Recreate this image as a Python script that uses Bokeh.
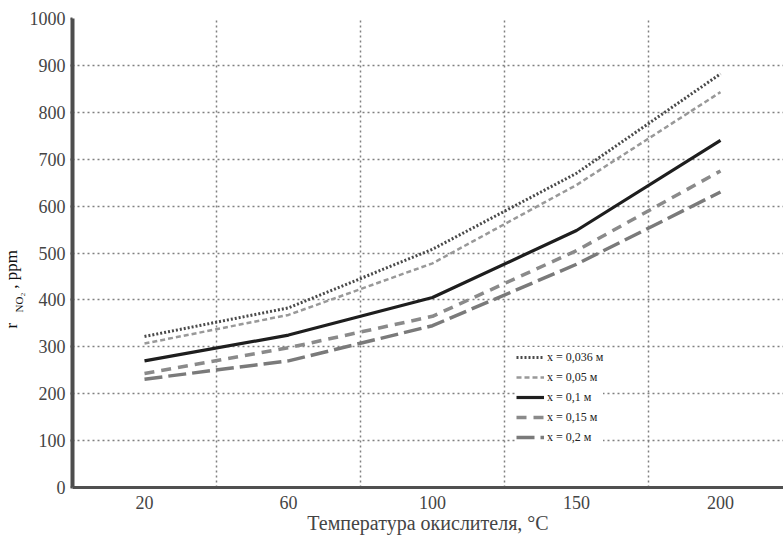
from bokeh.plotting import figure
from bokeh.models import FixedTicker, Legend, LegendItem, Range1d, Title
from bokeh.embed import file_html
from bokeh.resources import INLINE

temps = ["20", "60", "100", "150", "200"]
y_ticks = [0, 100, 200, 300, 400, 500, 600, 700, 800, 900, 1000]

s_0036 = [322, 383, 508, 670, 882]
s_005 = [307, 368, 478, 645, 843]
s_01 = [270, 325, 405, 548, 740]
s_015 = [243, 298, 365, 505, 675]
s_02 = [231, 270, 345, 476, 630]

labels = ["x = 0,036 м", "x = 0,05 м", "x = 0,1 м", "x = 0,15 м", "x = 0,2 м"]

FONT = "Liberation Serif"

xs = [i + 0.5 for i in range(len(temps))]

p = figure(width=783, height=536, output_backend="svg", toolbar_location=None,
           x_range=Range1d(0, 711 / 144), y_range=Range1d(0, 1000),
           min_border_left=72, min_border_right=0, min_border_top=18, min_border_bottom=49)
p.outline_line_color = None
p.background_fill_color = "white"
p.border_fill_color = "white"

styles = [
    dict(line_color="#4a4a4a", line_width=3, line_dash="2 2"),
    dict(line_color="#999999", line_width=2.5, line_dash="5 3"),
    dict(line_color="#1e1e1e", line_width=3.2),
    dict(line_color="#8a8a8a", line_width=3.5, line_dash="10 7"),
    dict(line_color="#7a7a7a", line_width=3.5, line_dash="18 6"),
]
series = [s_0036, s_005, s_01, s_015, s_02]
items = []
for lab, ys, st in zip(labels, series, styles):
    r = p.line(xs, ys, **st)
    items.append(LegendItem(label=lab, renderers=[r]))

legend = Legend(items=items, location=(444, 40), margin=0, padding=8,
                spacing=0, glyph_width=28, glyph_height=20, label_height=20,
                label_standoff=3, label_text_font=FONT, label_text_font_size="12px",
                label_text_color="#222222", background_fill_color="white",
                background_fill_alpha=1.0, border_line_color=None)
p.add_layout(legend, "center")

# axes
p.xaxis.ticker = FixedTicker(ticks=xs)
p.xaxis.major_label_overrides = {x: t for x, t in zip(xs, temps)}
p.xaxis.axis_label = "Температура окислителя, °С"
p.xaxis.axis_label_text_font = FONT
p.xaxis.axis_label_text_font_style = "normal"
p.xaxis.axis_label_text_font_size = "20px"
p.xaxis.axis_label_standoff = 0
p.xaxis.major_label_text_font = FONT
p.xaxis.major_label_text_font_size = "18px"
p.xaxis.major_label_standoff = 8
p.xaxis.major_tick_out = 0
p.xaxis.major_tick_in = 0
p.xaxis.minor_tick_out = 0
p.xaxis.minor_tick_in = 0
p.xaxis.axis_line_width = 3
p.xaxis.axis_line_color = "#505050"

p.yaxis.ticker = FixedTicker(ticks=y_ticks)
p.yaxis.major_label_text_font = FONT
p.yaxis.major_label_text_font_size = "18px"
p.yaxis.major_label_standoff = 5
p.yaxis.major_tick_out = 2
p.yaxis.major_tick_in = 0
p.yaxis.major_tick_line_width = 2
p.yaxis.major_tick_line_color = "#505050"
p.yaxis.minor_tick_out = 0
p.yaxis.minor_tick_in = 0
p.yaxis.axis_line_width = 4
p.yaxis.axis_line_color = "#4d4d4d"

# grids
p.xgrid.ticker = FixedTicker(ticks=[1, 2, 3, 4, 5])
p.xgrid.grid_line_color = "#808080"
p.xgrid.grid_line_dash = "2 3"
p.xgrid.grid_line_width = 1.5
p.ygrid.ticker = FixedTicker(ticks=y_ticks)
p.ygrid.grid_line_color = "#808080"
p.ygrid.grid_line_dash = "2 3"
p.ygrid.grid_line_width = 1.5

# y-axis label with subscript, built from two side titles
NB = "\u00a0"
sub = Title(text="NO\u2082", align="left", offset=175, standoff=4,
            text_font=FONT, text_font_size="11px", text_font_style="normal",
            text_color="#111111")
main = Title(text="r" + NB * 8 + ", ppm", align="left", offset=159, standoff=-24,
             text_font=FONT, text_font_size="17px", text_font_style="normal",
             text_color="#111111")
p.add_layout(sub, "left")
p.add_layout(main, "left")

open("out.html", "w").write(file_html(p, INLINE))
